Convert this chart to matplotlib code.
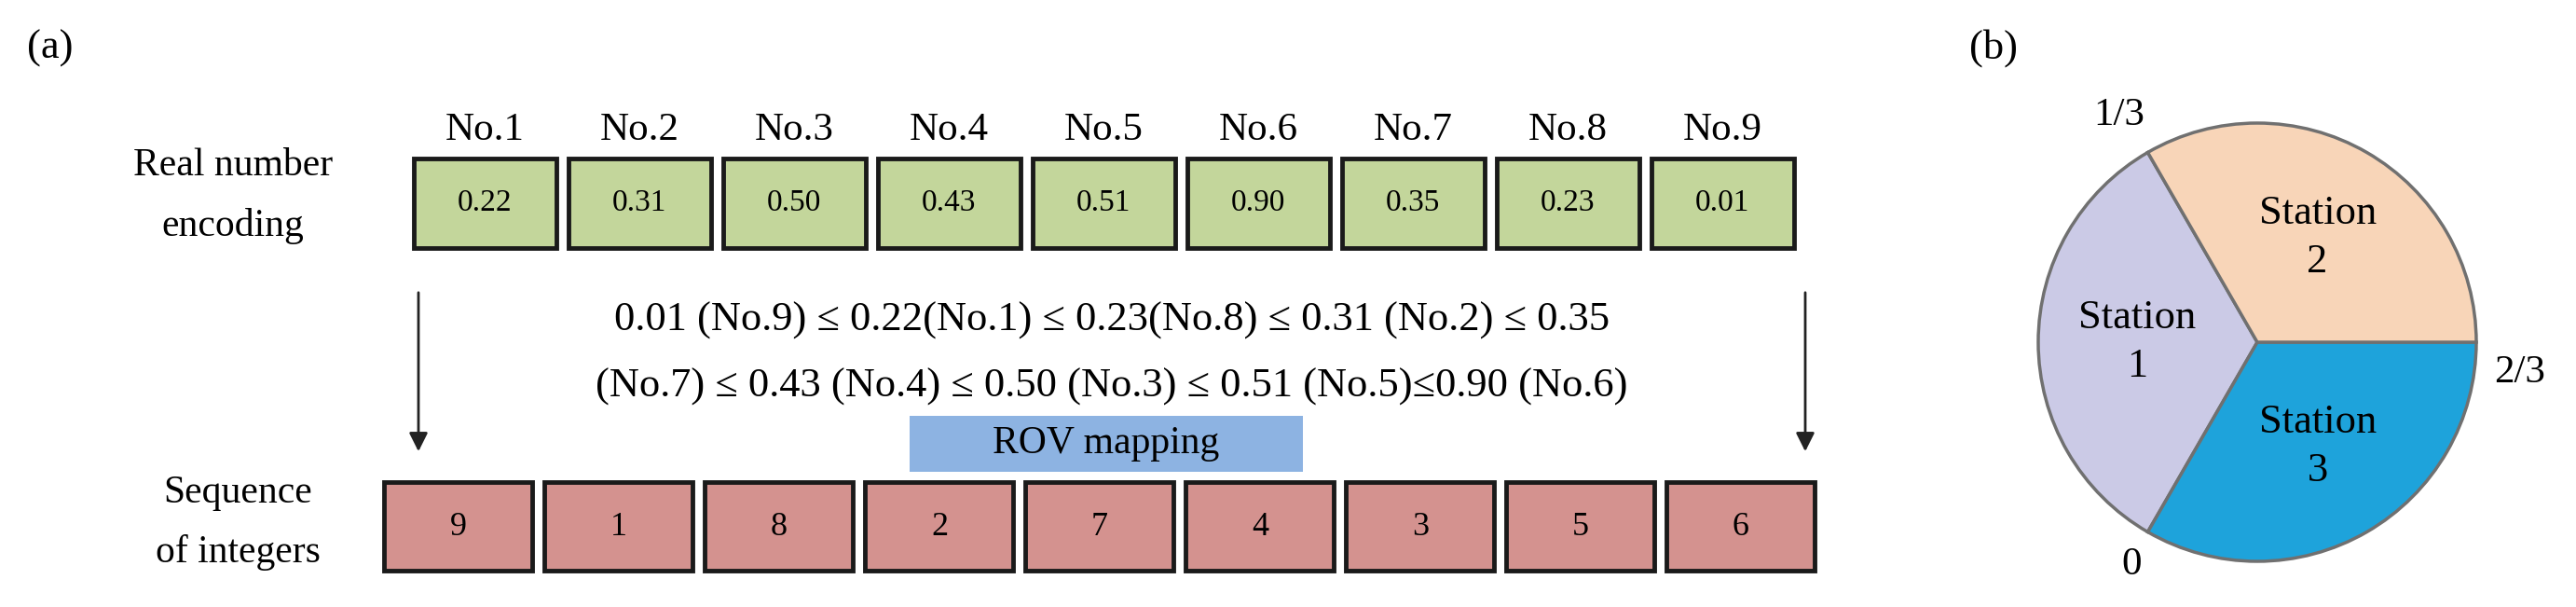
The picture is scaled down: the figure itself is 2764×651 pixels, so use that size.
import matplotlib
matplotlib.use("Agg")
import matplotlib.pyplot as plt
from matplotlib.patches import Rectangle, FancyArrowPatch

plt.rcParams['font.family'] = ['Liberation Serif', 'DejaVu Serif']

gene_labels = ["No.1", "No.2", "No.3", "No.4", "No.5", "No.6", "No.7", "No.8", "No.9"]
real_values = [0.22, 0.31, 0.50, 0.43, 0.51, 0.90, 0.35, 0.23, 0.01]
int_sequence = [9, 1, 8, 2, 7, 4, 3, 5, 6]
stations = ["Station\n1", "Station\n3", "Station\n2"]
station_shares = [1, 1, 1]
station_colors = ["#cbcae6", "#1ea3db", "#f8d5b8"]
line1 = "0.01 (No.9) \u2264 0.22(No.1) \u2264 0.23(No.8) \u2264 0.31 (No.2) \u2264 0.35"
line2 = "(No.7) \u2264 0.43 (No.4) \u2264 0.50 (No.3) \u2264 0.51 (No.5)\u22640.90 (No.6)"

fig = plt.figure(figsize=(27.64, 6.51), dpi=100)
ax = fig.add_axes([0, 0, 1, 1])
ax.set_xlim(0, 2764)
ax.set_ylim(651, 0)
ax.axis('off')

ax.text(54, 52, "(a)", fontsize=32, ha='center', va='center')
ax.text(2139, 52, "(b)", fontsize=32, ha='center', va='center')

# green boxes
for i, (lab, v) in enumerate(zip(gene_labels, real_values)):
    x = 444 + i * 166
    ax.add_patch(Rectangle((x, 170), 153, 96, facecolor="#c3d69b", edgecolor="#1a1a1a", lw=3.5))
    ax.text(x + 76, 218, f"{v:.2f}", fontsize=24, ha='center', va='center')
    ax.text(x + 76, 140, lab, fontsize=31, ha='center', va='center')

# red boxes
for i, n in enumerate(int_sequence):
    x = 412 + i * 172
    ax.add_patch(Rectangle((x, 517), 159, 95, facecolor="#d4928f", edgecolor="#1a1a1a", lw=3.5))
    ax.text(x + 80, 565, str(n), fontsize=26, ha='center', va='center')

ax.text(250, 178, "Real number", fontsize=30, ha='center', va='center')
ax.text(250, 243, "encoding", fontsize=30, ha='center', va='center')
ax.text(255, 529, "Sequence", fontsize=30, ha='center', va='center')
ax.text(255, 593, "of integers", fontsize=30, ha='center', va='center')

for xa in (449, 1937):
    ax.add_patch(FancyArrowPatch((xa, 311), (xa, 487), arrowstyle='-|>', mutation_scale=30,
                                 color='#222222', lw=2))

ax.text(1193, 344, line1, fontsize=32, ha='center', va='center')
ax.text(1193, 415, line2, fontsize=32, ha='center', va='center')

ax.add_patch(Rectangle((976, 446), 422, 60, facecolor="#8db3e2", edgecolor='none'))
ax.text(1187, 476, "ROV mapping", fontsize=30, ha='center', va='center')

# pie
pax = fig.add_axes([(2422 - 240) / 2764, 1 - (367 + 240) / 651, 480 / 2764, 480 / 651])
wedges, texts = pax.pie(station_shares, colors=station_colors, startangle=120, counterclock=True,
                        radius=235 / 240, labels=stations, labeldistance=0.55,
                        wedgeprops=dict(edgecolor="#707070", lw=2.5),
                        textprops=dict(fontsize=32, ha='center', va='center', linespacing=1.4))
pax.set_xlim(-1, 1)
pax.set_ylim(-1, 1)
pax.set_aspect('auto')

ax.text(2274, 124, "1/3", fontsize=31, ha='center', va='center')
ax.text(2704, 400, "2/3", fontsize=31, ha='center', va='center')
ax.text(2287, 606, "0", fontsize=31, ha='center', va='center')

fig.savefig("out.png", dpi=100)
